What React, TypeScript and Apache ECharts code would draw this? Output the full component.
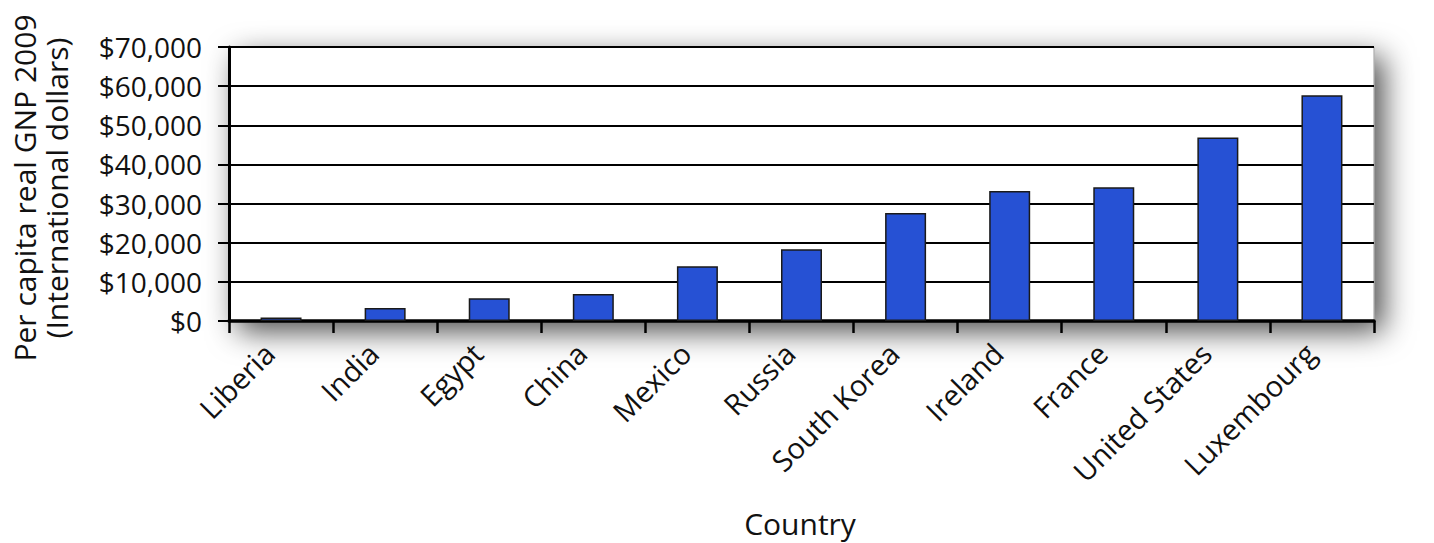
import React, { useEffect, useRef } from "react";
import * as echarts from "echarts";

const countries = [
  "Liberia",
  "India",
  "Egypt",
  "China",
  "Mexico",
  "Russia",
  "South Korea",
  "Ireland",
  "France",
  "United States",
  "Luxembourg",
];
const gnpPerCapita = [900, 3300, 5800, 6900, 14000, 18300, 27600, 33200, 34200, 46900, 57700];
const yTicks = { min: 0, max: 70000, interval: 10000 };
const yTitleLines = ["Per capita real GNP 2009", "(International dollars)"];
const xTitle = "Country";

const FONT = "'Open Sans', sans-serif";

export default function App() {
  const ref = useRef<HTMLDivElement>(null);
  useEffect(() => {
    if (!ref.current) return;
    const chart = echarts.init(ref.current, null, { renderer: "svg" });
    chart.setOption({
      animation: false,
      textStyle: { fontFamily: FONT },
      grid: {
        left: 229,
        right: 60,
        top: 47,
        bottom: 222,
        show: true,
        backgroundColor: "#ffffff",
        borderColor: "#9a9a9a",
        borderWidth: 1,
        shadowColor: "rgba(0,0,0,0.7)",
        shadowBlur: 30,
        shadowOffsetX: 9,
        shadowOffsetY: 10,
      },
      xAxis: {
        type: "category",
        data: countries,
        axisLine: { lineStyle: { color: "#000", width: 3.5 } },
        axisTick: { show: true, length: 12, lineStyle: { color: "#000", width: 2.5 } },
        axisLabel: {
          rotate: 45,
          interval: 0,
          margin: 15,
          padding: [0, 17, 0, 0],
          fontSize: 29,
          color: "#111",
          fontFamily: FONT,
        },
      },
      yAxis: {
        type: "value",
        min: yTicks.min,
        max: yTicks.max,
        interval: yTicks.interval,
        axisLine: { show: true, lineStyle: { color: "#000", width: 3 } },
        axisTick: { show: true, length: 11, lineStyle: { color: "#000", width: 2 } },
        splitLine: { show: true, lineStyle: { color: "#000", width: 2 } },
        axisLabel: {
          margin: 27,
          fontSize: 28,
          color: "#111",
          fontFamily: FONT,
          formatter: (v: number) => "$" + v.toLocaleString("en-US"),
        },
      },
      series: [
        {
          type: "bar",
          data: gnpPerCapita,
          barWidth: 41,
          itemStyle: { color: "#2651D4", borderColor: "#1a1a1a", borderWidth: 1.5 },
        },
      ],
      graphic: [
        {
          type: "text",
          x: 40,
          y: 188,
          rotation: Math.PI / 2,
          style: {
            text: yTitleLines.join("\n"),
            fontSize: 30,
            lineHeight: 32,
            fontFamily: FONT,
            fill: "#111",
            align: "center",
            verticalAlign: "middle",
          },
        },
        {
          type: "text",
          x: 800,
          y: 523,
          style: {
            text: xTitle,
            fontSize: 30,
            fontFamily: FONT,
            fill: "#111",
            align: "center",
            verticalAlign: "middle",
          },
        },
      ],
    });
    return () => chart.dispose();
  }, []);
  return <div ref={ref} style={{ width: 1434, height: 543, position: "absolute", left: 0, top: 0 }} />;
}
